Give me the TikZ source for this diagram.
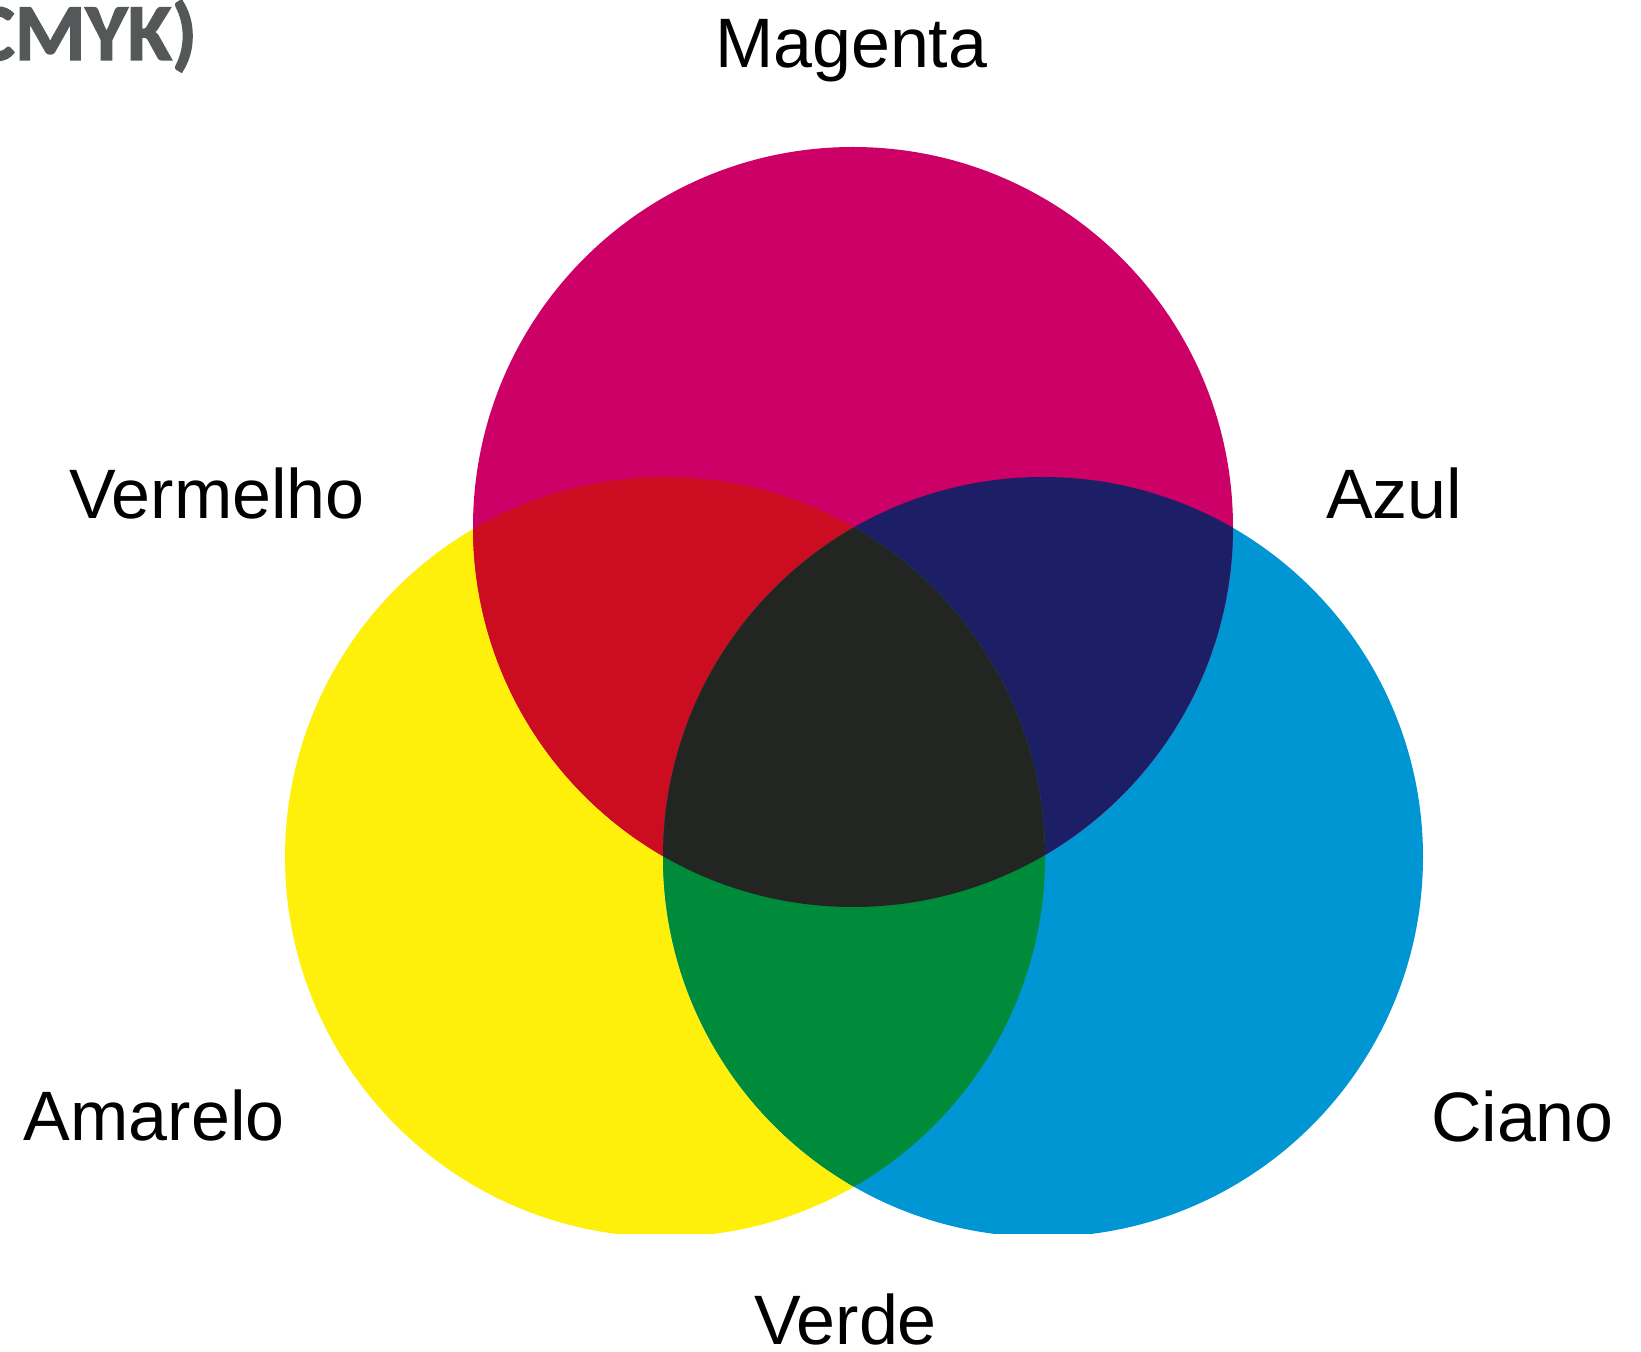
\documentclass[tikz,border=0pt]{standalone}
\usepackage{fontspec}
\setmainfont{Liberation Sans}
\newfontfamily\titlefont{Carlito}[UprightFont={* Bold}, FakeBold=1.8]
\definecolor{cMag}{RGB}{204,0,102}
\definecolor{cYel}{RGB}{255,240,12}
\definecolor{cCya}{RGB}{0,149,211}
\definecolor{cRed}{RGB}{204,12,33}
\definecolor{cBlu}{RGB}{29,31,102}
\definecolor{cGrn}{RGB}{0,139,58}
\definecolor{cBlk}{RGB}{35,37,35}
\definecolor{cTitle}{RGB}{85,88,89}
\tikzset{
  lbl/.style={inner sep=0pt, outer sep=0pt, anchor=base west, text=black,
    font=\fontsize{19.9pt}{24pt}\selectfont},
}
\begin{document}
\begin{tikzpicture}[x=0.01cm, y=-0.01cm]
\useasboundingbox (0,0) rectangle (1641,1352);
\coordinate (M) at (853,527);
\coordinate (Y) at (665,857);
\coordinate (C) at (1043,857);
\def\R{380}
\begin{scope}
  \clip (0,0) rectangle (1641,1234);
  % base circles
  \fill[cYel] (Y) circle[radius=\R];
  \fill[cCya] (C) circle[radius=\R];
  \fill[cMag] (M) circle[radius=\R];
  % pairwise overlaps
  \begin{scope}
    \clip (M) circle[radius=\R];
    \fill[cRed] (Y) circle[radius=\R];
    \fill[cBlu] (C) circle[radius=\R];
  \end{scope}
  \begin{scope}
    \clip (Y) circle[radius=\R];
    \fill[cGrn] (C) circle[radius=\R];
  \end{scope}
  % triple overlap
  \begin{scope}
    \clip (M) circle[radius=\R];
    \clip (Y) circle[radius=\R];
    \fill[cBlk] (C) circle[radius=\R];
  \end{scope}
\end{scope}
% labels
\node[inner sep=0pt, outer sep=0pt, anchor=base east, text=cTitle,
  font=\titlefont\fontsize{23pt}{27pt}\selectfont] (title) at (197,60) {CMYK)};
\node[lbl] (magenta) at (715,68) {Magenta};
\node[lbl] (vermelho) at (69,519) {Vermelho};
\node[lbl] (azul) at (1326,519) {Azul};
\node[lbl] (amarelo) at (24,1141) {Amarelo};
\node[lbl] (ciano) at (1431,1142) {Ciano};
\node[lbl] (verde) at (754,1345) {Verde};
\end{tikzpicture}
\end{document}
